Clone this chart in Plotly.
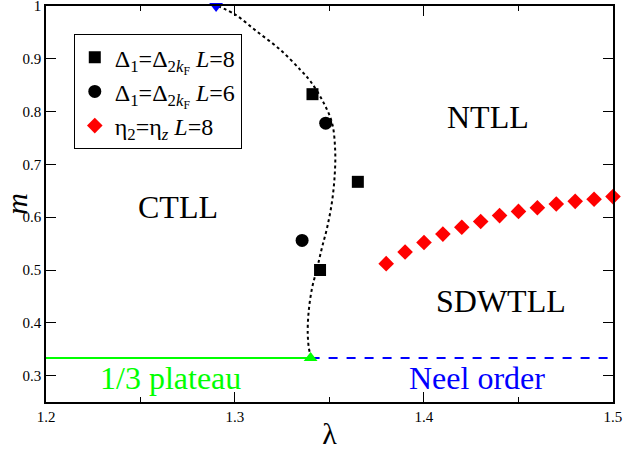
import plotly.graph_objects as go

# phase boundary points
sq_lam = [1.341, 1.365, 1.345]
sq_m = [0.833, 0.667, 0.5]

ci_lam = [1.348, 1.3355]
ci_m = [0.778, 0.556]

eta_lam = [1.38, 1.39, 1.40, 1.41, 1.42, 1.43, 1.44, 1.45, 1.46, 1.47, 1.48, 1.49, 1.50]
eta_m = [0.512, 0.534, 0.552, 0.568, 0.581, 0.592, 0.603, 0.611, 0.618, 0.625, 0.630, 0.634, 0.639]

# dotted guide curve
curve_lam = [1.291, 1.300, 1.3115, 1.324, 1.3346, 1.340, 1.347, 1.3514, 1.353, 1.3528,
             1.3514, 1.3488, 1.346, 1.3435, 1.3408, 1.339, 1.3385, 1.3395, 1.341]
curve_m = [1.0, 0.984, 0.952, 0.917, 0.879, 0.857, 0.816, 0.778, 0.727, 0.682,
           0.631, 0.581, 0.542, 0.504, 0.466, 0.422, 0.378, 0.345, 0.3333]

top_lam, top_m = [1.29], [1.0]
bot_lam, bot_m = [1.34], [1 / 3]

plateau_lam = [1.2, 1.34]
neel_lam = [1.34, 1.5]
plateau_m = [1 / 3, 1 / 3]

regions = ["CTLL", "NTLL", "SDWTLL"]
region_lam = [1.2696, 1.434, 1.4407]
region_m = [0.619, 0.789, 0.441]

serif = "Liberation Serif"

fig = go.Figure()

fig.add_trace(go.Scatter(x=curve_lam, y=curve_m, mode="lines", line_shape="spline",
                         line=dict(color="black", width=2, dash="dot"), showlegend=False))
fig.add_trace(go.Scatter(x=plateau_lam, y=plateau_m, mode="lines",
                         line=dict(color="#00ff00", width=2), showlegend=False))
fig.add_trace(go.Scatter(x=neel_lam, y=plateau_m, mode="lines",
                         line=dict(color="blue", width=2, dash="dash"), showlegend=False))

fig.add_trace(go.Scatter(x=sq_lam, y=sq_m, mode="markers",
                         marker=dict(symbol="square", size=12, color="black"),
                         name="Δ<sub>1</sub>=Δ<sub>2<i>k</i><sub>F</sub></sub> <i>L</i>=8"))
fig.add_trace(go.Scatter(x=ci_lam, y=ci_m, mode="markers",
                         marker=dict(symbol="circle", size=13, color="black"),
                         name="Δ<sub>1</sub>=Δ<sub>2<i>k</i><sub>F</sub></sub> <i>L</i>=6"))
fig.add_trace(go.Scatter(x=eta_lam, y=eta_m, mode="markers", cliponaxis=False,
                         marker=dict(symbol="diamond", size=12, color="red"),
                         name="η<sub>2</sub>=η<sub><i>z</i></sub> <i>L</i>=8"))

fig.add_trace(go.Scatter(x=top_lam, y=top_m, mode="markers", cliponaxis=False,
                         marker=dict(symbol="triangle-down", size=12, color="blue"),
                         showlegend=False))
fig.add_trace(go.Scatter(x=bot_lam, y=bot_m, mode="markers", cliponaxis=False,
                         marker=dict(symbol="triangle-up", size=12, color="#00ff00"),
                         showlegend=False))

for name, xl, ym in zip(regions, region_lam, region_m):
    fig.add_annotation(x=xl, y=ym, text=name, showarrow=False,
                       font=dict(family=serif, size=32, color="black"))

fig.add_annotation(x=1.266, y=0.296, text="1/3 plateau", showarrow=False,
                   font=dict(family=serif, size=32, color="#00ff00"))
fig.add_annotation(x=1.4278, y=0.296, text="Neel order", showarrow=False,
                   font=dict(family=serif, size=32, color="blue"))

axis_common = dict(showgrid=False, zeroline=False, showline=True, linecolor="black",
                   linewidth=1.5, mirror="allticks", ticks="inside", ticklen=10,
                   tickcolor="black", tickwidth=1.2, automargin=False,
                   ticklabeloverflow="allow",
                   tickfont=dict(family=serif, size=15, color="black"))

fig.update_xaxes(range=[1.2, 1.50001], dtick=0.1, tick0=1.2,
                 minor=dict(dtick=0.05, ticks="inside", ticklen=5, tickcolor="black"),
                 title=dict(text="λ", font=dict(family=serif, size=30, color="black"), standoff=4),
                 **axis_common)
fig.update_yaxes(range=[0.25, 1.00001], dtick=0.1, tick0=0.3,
                 title=dict(text="<i>m</i>", font=dict(family=serif, size=30, color="black"), standoff=2),
                 **axis_common)

fig.update_layout(
    width=623, height=450,
    margin=dict(l=46, r=10, t=6, b=48),
    plot_bgcolor="white", paper_bgcolor="white",
    font=dict(family=serif, color="black"),
    legend=dict(x=0.049, y=0.929, xanchor="left", yanchor="top",
                bordercolor="black", borderwidth=1, bgcolor="white",
                font=dict(family=serif, size=24, color="black"),
                tracegroupgap=4, itemwidth=30),
)

# drop the browser's default page margin so the figure sits at the window corner
fig.write_html("out.html", config={"displayModeBar": False},
               post_script="document.body.style.margin='0';")
